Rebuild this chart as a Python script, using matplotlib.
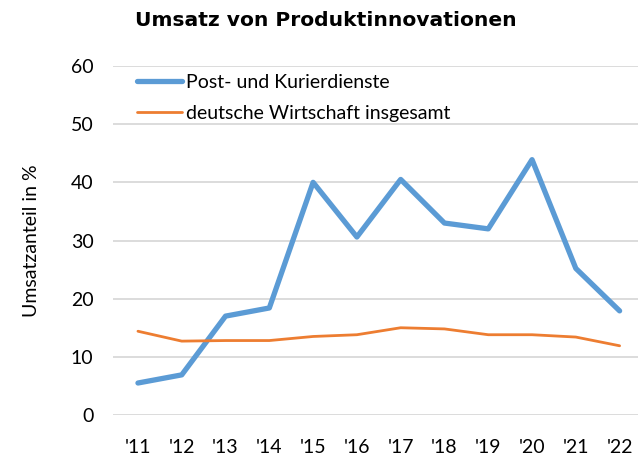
import matplotlib
matplotlib.use('Agg')
import matplotlib.pyplot as plt

jahre = ["'11", "'12", "'13", "'14", "'15", "'16", "'17", "'18", "'19", "'20", "'21", "'22"]
post = [5.5, 6.9, 17.0, 18.4, 40.0, 30.6, 40.5, 33.0, 32.0, 43.9, 25.2, 17.9]
wirtschaft = [14.4, 12.7, 12.8, 12.8, 13.5, 13.8, 15.0, 14.8, 13.8, 13.8, 13.4, 11.9]

plt.rcParams['font.family'] = ['Lato', 'DejaVu Sans']

fig = plt.figure(figsize=(6.38, 4.57), dpi=100)
ax = fig.add_axes([113/638, 1 - 415/457, 1 - 113/638, (415 - 66)/457])

x = range(len(jahre))
ax.plot(x, post, color='#5B9BD5', linewidth=3.8, solid_capstyle='round', label='Post- und Kurierdienste')
ax.plot(x, wirtschaft, color='#ED7D31', linewidth=2.0, solid_capstyle='round', label='deutsche Wirtschaft insgesamt')

ax.set_ylim(0, 60)
ax.set_xlim(-0.57, 11.42)
ax.set_yticks(range(0, 61, 10))
ax.set_xticks(list(x))
ax.set_xticklabels(jahre)
ax.grid(axis='y', color='#d9d9d9', linewidth=1.3)
ax.set_axisbelow(True)
for s in ax.spines.values():
    s.set_visible(False)
ax.tick_params(length=0, labelsize=14, colors='black')
ax.tick_params(axis='y', pad=14)
ax.tick_params(axis='x', pad=17)

ax.set_ylabel('Umsatzanteil in %', fontsize=14, labelpad=22)

fig.text(0.51, 1 - 21/457, 'Umsatz von Produktinnovationen', ha='center', va='center',
         fontsize=14.6, fontweight='bold', family='DejaVu Sans')

ax.legend(loc='upper left', bbox_to_anchor=(0.031, 1.0), frameon=False, fontsize=14,
          handlelength=2.3, handletextpad=0.2, labelspacing=0.72, borderaxespad=0)

fig.savefig('out.png', dpi=100)
